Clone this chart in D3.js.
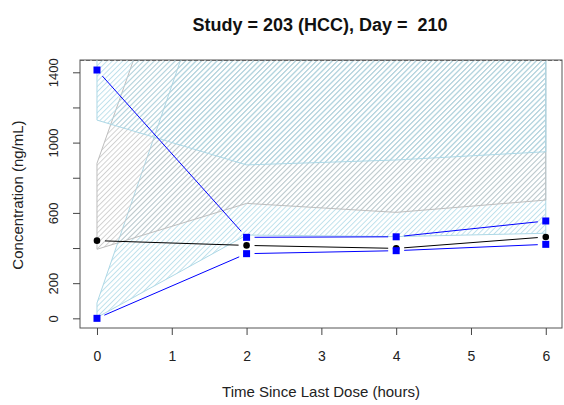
<!DOCTYPE html>
<html><head><meta charset="utf-8">
<script src="https://cdn.jsdelivr.net/npm/d3@7"></script>
<style>body{margin:0;background:#fff} svg text{font-family:"Liberation Sans",Arial,sans-serif}</style>
</head><body><svg id="c" width="564" height="405"></svg>
<script>
// ---- data ----
const times = [0, 2, 4, 6];
const obsLow  = [0, 368, 385, 421];     // observed 5th percentile (blue squares)
const obsMed  = [442, 415, 398, 463];   // observed median (black dots)
const obsHigh = [1413, 461, 464, 554];  // observed 95th percentile (blue squares)
const piLowLower  = [5, 474, 465, 484];
const piLowUpper  = [87, 2560, 2400, 2500];
const piMedLower  = [393, 654, 603, 673];
const piMedUpper  = [882, 3290, 3000, 3200];
const piHighLower = [1128, 873, 901, 948];
const piHighUpper = [3000, 3000, 3000, 3000];
const xTicks = [0, 1, 2, 3, 4, 5, 6];
const yTicks = [0, 200, 400, 600, 800, 1000, 1200, 1400];
const yTickLabels = ["0", "200", "", "600", "", "1000", "", "1400"];
const xDomain = [-0.227, 6.217];
const yDomain = [-55, 1470];
const title = "Study = 203 (HCC), Day =  210";
const xLabel = "Time Since Last Dose (hours)";
const yLabel = "Concentration (ng/mL)";

// ---- layout ----
const L = 80, R = 562, T = 60, B = 328;
const svg = d3.select("#c");
const x = d3.scaleLinear().domain(xDomain).range([L, R]);
const y = d3.scaleLinear().domain(yDomain).range([B, T]);

const defs = svg.append("defs");
defs.append("clipPath").attr("id", "clip").append("rect")
  .attr("x", L).attr("y", T).attr("width", R - L).attr("height", B - T);
function hatch(id, color) {
  const p = defs.append("pattern").attr("id", id)
    .attr("patternUnits", "userSpaceOnUse")
    .attr("width", 3.7).attr("height", 10)
    .attr("patternTransform", "rotate(45)");
  p.append("line").attr("x1", 0.5).attr("y1", -1).attr("x2", 0.5).attr("y2", 11)
    .attr("stroke", color).attr("stroke-width", 0.8);
}
hatch("hb", "#add8e6");
hatch("hg", "#c4c4c4");

const plot = svg.append("g").attr("clip-path", "url(#clip)");

function band(lower, upper, fill, stroke) {
  const pts = times.map((t, i) => [x(t), y(lower[i])])
    .concat(times.map((t, i) => [x(t), y(upper[i])]).reverse());
  plot.append("path").attr("d", "M" + pts.join("L") + "Z")
    .attr("fill", fill).attr("stroke", stroke).attr("stroke-width", 1);
}
band(piLowLower, piLowUpper, "url(#hb)", "#add8e6");
band(piMedLower, piMedUpper, "url(#hg)", "#bebebe");
band(piHighLower, piHighUpper, "url(#hb)", "#add8e6");

// type "b" lines: segments with gaps around points
function gapLine(vals, color) {
  const gap = 8;
  for (let i = 0; i < times.length - 1; i++) {
    const x1 = x(times[i]), y1 = y(vals[i]), x2 = x(times[i + 1]), y2 = y(vals[i + 1]);
    const d = Math.hypot(x2 - x1, y2 - y1);
    if (d <= 2 * gap) continue;
    const ux = (x2 - x1) / d, uy = (y2 - y1) / d;
    plot.append("line")
      .attr("x1", x1 + ux * gap).attr("y1", y1 + uy * gap)
      .attr("x2", x2 - ux * gap).attr("y2", y2 - uy * gap)
      .attr("stroke", color).attr("stroke-width", 1);
  }
}
gapLine(obsMed, "#000");
gapLine(obsHigh, "#0000ff");
gapLine(obsLow, "#0000ff");

function squares(vals) {
  plot.selectAll(null).data(vals).enter().append("rect")
    .attr("x", (d, i) => x(times[i]) - 3.5).attr("y", d => y(d) - 3.5)
    .attr("width", 7).attr("height", 7).attr("fill", "#0000ff");
}
squares(obsHigh);
plot.selectAll(null).data(obsMed).enter().append("circle")
  .attr("cx", (d, i) => x(times[i])).attr("cy", d => y(d)).attr("r", 3.3).attr("fill", "#000");
squares(obsLow);

// top dashed line
svg.append("line").attr("x1", L).attr("x2", R).attr("y1", T + 0.5).attr("y2", T + 0.5)
  .attr("stroke", "#777").attr("stroke-dasharray", "4,2");

// box
svg.append("rect").attr("x", L).attr("y", T).attr("width", R - L).attr("height", B - T)
  .attr("fill", "none").attr("stroke", "#555").attr("stroke-width", 1);

// axes
const xa = svg.append("g").attr("transform", `translate(0,${B})`)
  .call(d3.axisBottom(x).tickValues(xTicks).tickSize(7).tickPadding(26).tickFormat(d3.format("d")));
xa.select(".domain").remove();
xa.selectAll("line").attr("stroke", "#444");
xa.selectAll("text").attr("font-size", 14).attr("fill", "#222").attr("dy", 0);

const ya = svg.append("g").attr("transform", `translate(${L},0)`)
  .call(d3.axisLeft(y).tickValues(yTicks).tickSize(7).tickFormat((d, i) => yTickLabels[i]));
ya.select(".domain").remove();
ya.selectAll("line").attr("stroke", "#444");
ya.selectAll("text").attr("font-size", 13).attr("fill", "#222")
  .attr("x", null).attr("dy", 0).attr("text-anchor", "middle")
  .attr("transform", "rotate(-90)").attr("y", -22);

svg.append("text").attr("x", 320).attr("y", 31).attr("text-anchor", "middle")
  .attr("font-size", 18).attr("font-weight", "bold").attr("fill", "#111")
  .style("white-space", "pre").attr("xml:space", "preserve").text(title);
svg.append("text").attr("x", 321).attr("y", 397).attr("text-anchor", "middle")
  .attr("font-size", 15).attr("fill", "#222").text(xLabel);
svg.append("text").attr("transform", `translate(23,195) rotate(-90)`).attr("text-anchor", "middle")
  .attr("font-size", 15).attr("fill", "#222").text(yLabel);
</script></body></html>
